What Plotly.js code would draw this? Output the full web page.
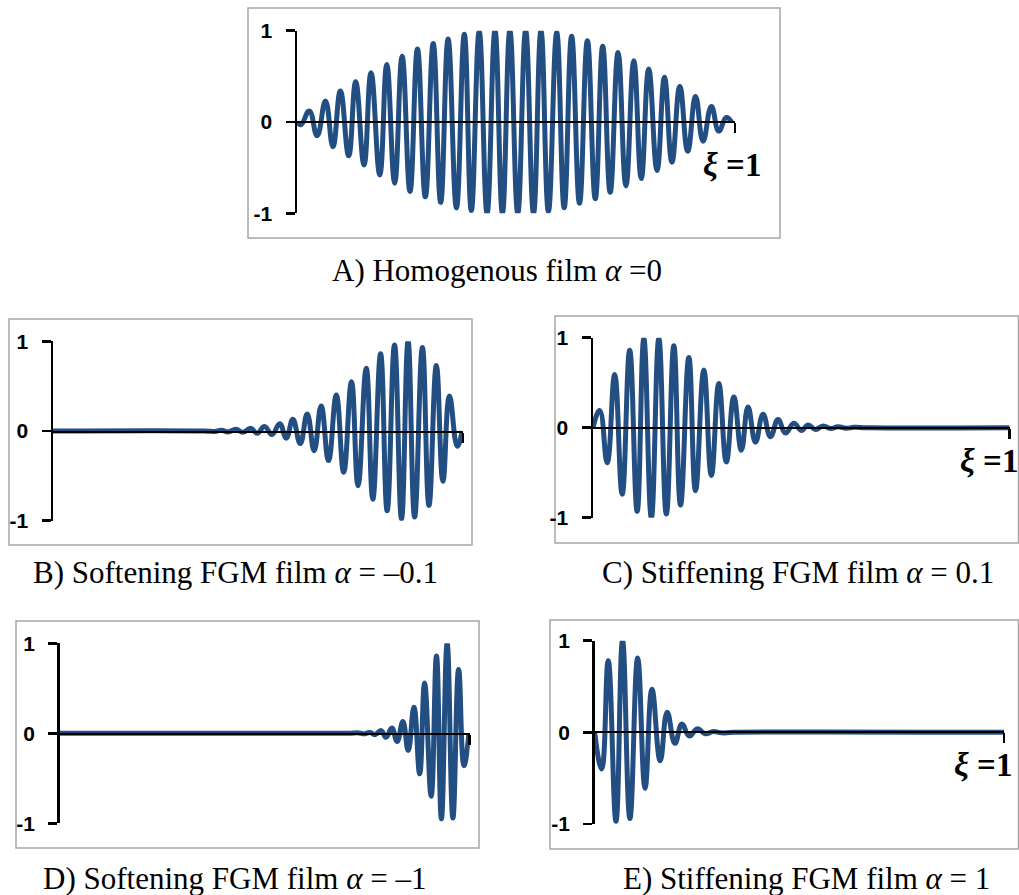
<!DOCTYPE html>
<html>
<head>
<meta charset="utf-8">
<script src="https://cdn.plot.ly/plotly-3.0.1.min.js"></script>
<style>
  html, body { margin: 0; padding: 0; background: #ffffff; }
  #chart { width: 1019px; height: 895px; }
</style>
</head>
<body>
<div id="chart"></div>
<script>
// Normalised transverse displacement along the film, xi in [0, 1].
// Each series lists the successive extrema of the wave (plus its end points).

// A) homogeneous film, alpha = 0
const xiA = [0, 0.009, 0.028, 0.046, 0.065, 0.082, 0.099, 0.118, 0.134, 0.153, 0.169, 0.189, 0.205, 0.223,
  0.240, 0.258, 0.275, 0.293, 0.311, 0.328, 0.345, 0.364, 0.382, 0.398, 0.416, 0.434, 0.452, 0.469,
  0.486, 0.504, 0.522, 0.540, 0.557, 0.574, 0.593, 0.610, 0.627, 0.645, 0.663, 0.681, 0.698, 0.715,
  0.733, 0.751, 0.769, 0.786, 0.803, 0.822, 0.839, 0.856, 0.874, 0.892, 0.910, 0.927, 0.946, 0.963,
  0.980, 0.992];
const wA = [0, -0.03, 0.12, -0.15, 0.23, -0.27, 0.34, -0.37, 0.44, -0.47, 0.54, -0.58, 0.63, -0.67,
  0.72, -0.76, 0.80, -0.82, 0.86, -0.88, 0.91, -0.94, 0.96, -0.97, 0.99, -1.0, 1.0, -1.0,
  1.0, -1.0, 1.0, -1.0, 1.0, -0.98, 0.98, -0.94, 0.94, -0.89, 0.89, -0.84, 0.83, -0.77,
  0.76, -0.70, 0.67, -0.62, 0.58, -0.53, 0.49, -0.44, 0.39, -0.32, 0.28, -0.21, 0.17, -0.10,
  0.05, 0];

// B) softening FGM film, alpha = -0.1
const xiB = [0, 0.37, 0.394, 0.411, 0.427, 0.447, 0.463, 0.482, 0.498, 0.516, 0.534, 0.553, 0.569, 0.585,
  0.603, 0.620, 0.637, 0.654, 0.672, 0.691, 0.709, 0.728, 0.744, 0.764, 0.780, 0.799, 0.815, 0.833,
  0.850, 0.866, 0.882, 0.901, 0.917, 0.935, 0.951, 0.967, 0.986, 0.998];
const wB = [0, 0, -0.005, 0.008, -0.01, 0.02, -0.015, 0.03, -0.025, 0.05, -0.04, 0.08, -0.08, 0.13,
  -0.14, 0.19, -0.22, 0.28, -0.33, 0.40, -0.46, 0.55, -0.61, 0.70, -0.76, 0.86, -0.89, 0.96,
  -0.98, 1.0, -0.96, 0.93, -0.83, 0.73, -0.56, 0.39, -0.17, 0];

// C) stiffening FGM film, alpha = 0.1
const xiC = [0, 0.016, 0.034, 0.052, 0.070, 0.088, 0.106, 0.122, 0.140, 0.158, 0.176, 0.194, 0.210, 0.230,
  0.246, 0.266, 0.284, 0.302, 0.320, 0.338, 0.356, 0.372, 0.390, 0.408, 0.426, 0.444, 0.462, 0.482,
  0.500, 0.516, 0.534, 0.552, 0.570, 0.588, 0.608, 0.626, 0.66, 1.0];
const wC = [0, 0.19, -0.39, 0.59, -0.74, 0.86, -0.93, 0.99, -1.0, 0.99, -0.96, 0.91, -0.86, 0.78,
  -0.70, 0.64, -0.53, 0.49, -0.38, 0.34, -0.25, 0.23, -0.16, 0.15, -0.10, 0.09, -0.06, 0.05,
  -0.03, 0.03, -0.02, 0.02, -0.01, 0.01, -0.006, 0.004, 0, 0];

// D) softening FGM film, alpha = -1
const xiD = [0, 0.70, 0.730, 0.742, 0.757, 0.769, 0.784, 0.796, 0.810, 0.823, 0.837, 0.850, 0.864, 0.878,
  0.890, 0.906, 0.919, 0.931, 0.945, 0.959, 0.973, 0.986, 0.998];
const wD = [0, 0, 0.004, -0.006, 0.01, -0.015, 0.03, -0.045, 0.06, -0.09, 0.13, -0.19, 0.29, -0.45,
  0.56, -0.70, 0.86, -0.95, 1.0, -0.94, 0.71, -0.36, 0];

// E) stiffening FGM film, alpha = 1
const xiE = [0, 0.017, 0.033, 0.052, 0.068, 0.086, 0.105, 0.123, 0.140, 0.160, 0.177, 0.196, 0.213, 0.231,
  0.251, 0.270, 0.290, 0.310, 0.34, 1.0];
const wE = [0, -0.40, 0.78, -0.97, 1.0, -0.94, 0.81, -0.61, 0.47, -0.31, 0.22, -0.12, 0.09, -0.04,
  0.04, -0.015, 0.01, -0.005, 0, 0];

const yTickVals = [-1, 0, 1];
const yTickText = ['<b>-1</b>', '<b>0</b>', '<b>1</b>'];
const xEndTick = [1];

const captionA = 'A) Homogenous film <i>α</i> =0';
const captionB = 'B) Softening FGM film <i>α</i> = –0.1';
const captionC = 'C) Stiffening FGM film <i>α</i> = 0.1';
const captionD = 'D) Softening FGM film <i>α</i> = –1';
const captionE = 'E) Stiffening FGM film <i>α</i> = 1';
const endLabel = '<b><i>ξ</i> =1</b>';

// ---- page geometry (pixels) ----
const W = 1019, H = 895;
const panels = [
  { xi: xiA, w: wA, plot: [297, 735, 30.7, 213.3], box: [248, 8, 780, 238],
    cap: captionA, capPos: [497, 270], lblY: -0.47, lblShift: 28, zeroW: 2 },
  { xi: xiB, w: wB, plot: [53, 463, 341.3, 520.7], box: [9, 319, 472, 545],
    cap: captionB, capPos: [235, 572], lblY: -1.08, lblShift: 11, zeroW: 1.5 },
  { xi: xiC, w: wC, plot: [593, 1009.7, 337.7, 517.7], box: [555, 316, 1018.5, 543],
    cap: captionC, capPos: [798, 572], lblY: -0.37, lblShift: 10, zeroW: 2 },
  { xi: xiD, w: wD, plot: [59.7, 469.7, 643.3, 823.3], box: [16, 621, 479, 848],
    cap: captionD, capPos: [234, 878], lblY: -1.07, lblShift: 4, zeroW: 1.8 },
  { xi: xiE, w: wE, plot: [594.7, 1004, 640.7, 824], box: [550, 620, 1018.5, 849],
    cap: captionE, capPos: [806, 878], lblY: -0.36, lblShift: 10, zeroW: 2 }
];

const px = v => v / W;
const py = v => 1 - v / H;

const serif = '"Liberation Serif", "Times New Roman", Times, serif';
const sans = '"Liberation Sans", Arial, sans-serif';
const curveColor = '#234e82';
const traces = [];
const layout = {
  width: W, height: H, autosize: false,
  margin: { l: 0, r: 0, t: 0, b: 0, pad: 0 },
  paper_bgcolor: '#ffffff', plot_bgcolor: 'rgba(0,0,0,0)',
  showlegend: false,
  shapes: [], annotations: []
};

panels.forEach((p, i) => {
  const n = i === 0 ? '' : String(i + 1);
  const xa = 'x' + n, ya = 'y' + n;
  const [x0, x1, yTop, yBot] = p.plot;
  const yDom = [py(yBot), py(yTop)];

  traces.push({
    type: 'scatter', mode: 'lines', x: p.xi, y: p.w,
    xaxis: xa, yaxis: ya, cliponaxis: false, hoverinfo: 'skip',
    line: { color: curveColor, width: 5, shape: 'spline', smoothing: 1.3 }
  });

  layout['xaxis' + n] = {
    domain: [px(x0), px(x1)], range: [0, 1], anchor: 'free', position: (yDom[0] + yDom[1]) / 2,
    showline: true, linecolor: '#000000', linewidth: p.zeroW,
    ticks: 'outside', tickvals: xEndTick, ticklen: 10, tickwidth: 2.5, tickcolor: '#000000',
    showticklabels: false, showgrid: false, zeroline: false, fixedrange: true
  };
  layout['yaxis' + n] = {
    domain: yDom, range: [-1, 1], anchor: xa,
    showline: true, linecolor: '#000000', linewidth: 2.5,
    ticks: 'outside', tickvals: yTickVals, ticktext: yTickText, ticklen: 9, tickwidth: 2.5,
    tickcolor: '#000000', ticklabelstandoff: 9,
    tickfont: { family: sans, size: 21, color: '#000000' },
    showgrid: false, zeroline: false, fixedrange: true
  };

  // frame around the panel
  const [bx0, by0, bx1, by1] = p.box;
  layout.shapes.push({
    type: 'rect', xref: 'paper', yref: 'paper',
    x0: px(bx0), x1: px(bx1), y0: py(by1), y1: py(by0),
    line: { color: '#a6a6a6', width: 1.5 }, fillcolor: 'rgba(0,0,0,0)', layer: 'below'
  });

  // xi = 1 marker at the end of the axis
  layout.annotations.push({
    xref: xa, yref: ya, x: 1, y: p.lblY, xanchor: 'right', yanchor: 'middle',
    xshift: p.lblShift, showarrow: false, text: endLabel,
    font: { family: serif, size: 33, color: '#000000' }
  });

  // caption under the panel
  layout.annotations.push({
    xref: 'paper', yref: 'paper', x: px(p.capPos[0]), y: py(p.capPos[1]),
    xanchor: 'center', yanchor: 'middle', showarrow: false, text: p.cap,
    font: { family: serif, size: 31, color: '#000000' }
  });
});

Plotly.newPlot('chart', traces, layout, { staticPlot: true, displayModeBar: false });
</script>
</body>
</html>
